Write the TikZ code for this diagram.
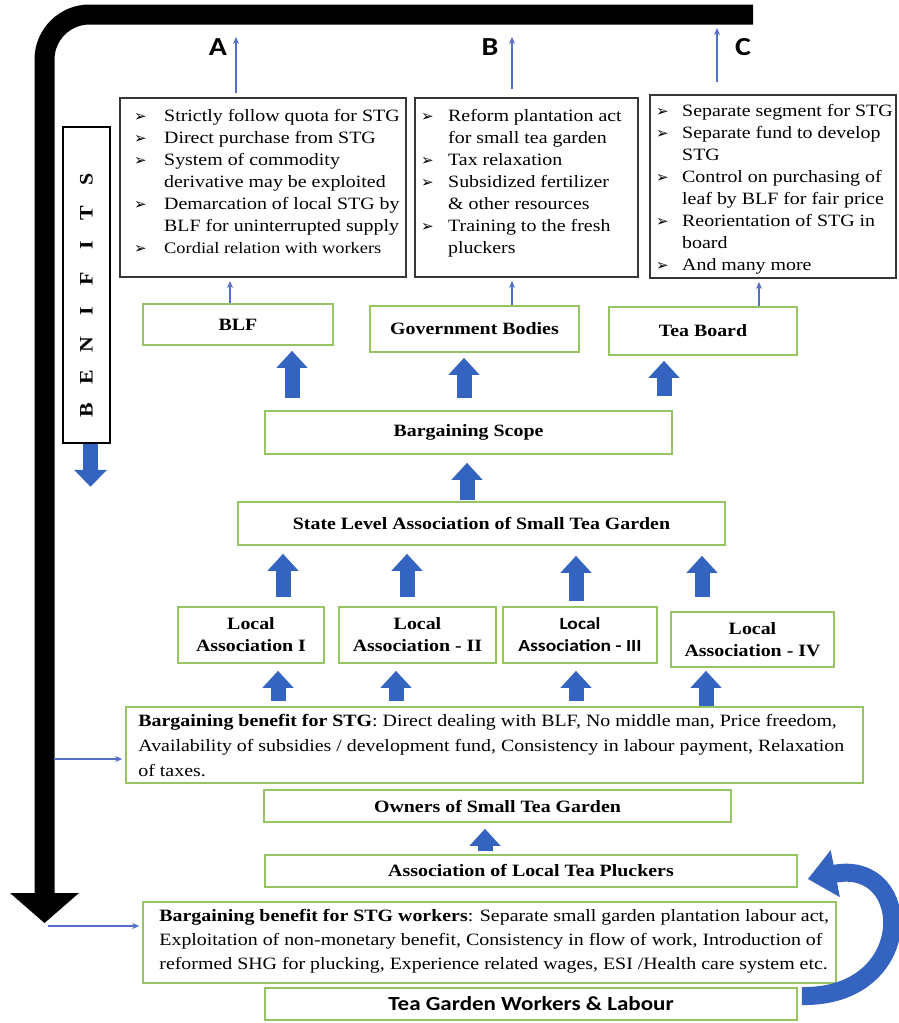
\documentclass[tikz,border=0pt]{standalone}
\usepackage{fontspec}
\setmainfont{Liberation Serif}[FakeStretch=1.15]
\newfontfamily\calibri{Carlito}[FakeStretch=1.15]
\newfontfamily\dejavu{DejaVu Sans}
\usetikzlibrary{arrows.meta,calc}
\definecolor{boxgreen}{RGB}{150,195,100}
\definecolor{arrblue}{RGB}{52,100,192}
\definecolor{thinblue}{RGB}{85,110,200}
\definecolor{boxgray}{RGB}{55,55,55}
\newlength\bulw
\newcommand\bl{\makebox[\bulw][l]{\dejavu\bfseries\fontsize{15}{15}\selectfont ➢}}
\newcommand\ind{\hspace*{\bulw}}
\tikzset{
 gbox/.style={draw=boxgreen, line width=1.6pt, inner sep=0pt, align=center, font=\bfseries\fontsize{17.3}{22}\selectfont},
 lbox/.style={draw=boxgray, line width=2pt, inner sep=0pt},
 listtext/.style={inner sep=0pt, align=left, anchor=north west, font=\fontsize{17.3}{22}\selectfont},
 bigarr/.style={draw=arrblue, line width=15pt, -{Triangle[width=30pt,length=17pt]}},
 thinarr/.style={draw=thinblue, line width=1.5pt, -{Stealth[length=7pt,width=6pt]}},
 lab/.style={font=\calibri\bfseries\fontsize{26}{26}\selectfont, inner sep=0pt},
}
\begin{document}
\begin{tikzpicture}[x=1pt,y=-1pt]
\useasboundingbox (0,0) rectangle (899,1023);
\fill[white] (0,0) rectangle (899,1023);

% big black benefit arrow
\coordinate (bk1) at (753,14.5);
\coordinate (bk2) at (44.5,893);
\draw[line width=20pt, rounded corners=45pt] (bk1) -| (bk2);
\fill ([xshift=-34.5pt]bk2) -- ([xshift=34.5pt]bk2) -- ([yshift=-30pt]bk2) -- cycle;

% labels
\node[lab] (labA) at (218,47) {A};
\node[lab] (labB) at (490,47) {B};
\node[lab] (labC) at (743,47) {C};
\coordinate (aTop) at (236,37);
\coordinate (bTop) at (512,37);
\coordinate (cTop) at (717,28);

% top boxes
\node[lbox, minimum width=286pt, minimum height=179pt] (boxA) at (263,187.5) {};
\node[lbox, minimum width=223pt, minimum height=179pt] (boxB) at (526.5,187.5) {};
\node[lbox, minimum width=246pt, minimum height=183pt] (boxC) at (773,186.5) {};

\node[listtext] (txtA) at ([xshift=15pt,yshift=-12pt]boxA.north west) {\global\bulw=30pt\relax
\bl Strictly follow quota for STG\\
\bl Direct purchase from STG\\
\bl System of commodity\\
\ind derivative may be exploited\\
\bl Demarcation of local STG by\\
\ind BLF for uninterrupted supply\\
{\fontsize{16}{22}\selectfont\bl Cordial relation with workers}};

\node[listtext] (txtB) at ([xshift=7pt,yshift=-12pt]boxB.north west) {\global\bulw=27pt\relax
\bl Reform plantation act\\
\ind for small tea garden\\
\bl Tax relaxation\\
\bl Subsidized fertilizer\\
\ind \& other resources\\
\bl Training to the fresh\\
\ind pluckers};

\node[listtext] (txtC) at ([xshift=7pt,yshift=-10pt]boxC.north west) {\global\bulw=26pt\relax
\bl Separate segment for STG\\
\bl Separate fund to develop\\
\ind STG\\
\bl Control on purchasing of\\
\ind leaf by BLF for fair price\\
\bl Reorientation of STG in\\
\ind board\\
\bl And many more};

\draw[thinarr] ([xshift=-27pt,yshift=4pt]boxA.north) -- (aTop);
\draw[thinarr] ([xshift=-14.5pt,yshift=8pt]boxB.north) -- (bTop);
\draw[thinarr] ([xshift=-56pt,yshift=12pt]boxC.north) -- (cTop);

% BENIFITS
\node[draw=black, line width=1.5pt, rotate=90, minimum width=316pt, minimum height=47pt, inner sep=0pt,
      font=\bfseries\fontsize{19}{19}\selectfont] (ben) at (86.5,285)
  {\makebox[32.9pt]{B}\makebox[32.9pt]{E}\makebox[32.9pt]{N}\makebox[32.9pt]{I}\makebox[32.9pt]{F}\makebox[32.9pt]{I}\makebox[32.9pt]{T}\makebox[32.9pt]{S}\kern20pt\null};
\draw[draw=arrblue, line width=15pt, -{Triangle[width=32pt,length=17pt]}] ([xshift=4pt]ben.west) -- ++(0,43);

% level boxes
\node[gbox, minimum width=190pt, minimum height=41pt] (BLF) at (238,324.5) {BLF};
\node[gbox, minimum width=209pt, minimum height=46pt] (Gov) at (474.5,329) {Government Bodies};
\node[gbox, minimum width=188pt, minimum height=48pt] (TB) at (703,331) {Tea Board};

\draw[thinarr] ([xshift=-8pt]BLF.north) -- ([xshift=-33pt,yshift=-3pt]boxA.south);
\draw[thinarr] ([xshift=37.5pt]Gov.north) -- ([xshift=-14.5pt,yshift=-3pt]boxB.south);
\draw[thinarr] ([xshift=56pt]TB.north) -- ([xshift=-14pt,yshift=-3pt]boxC.south);

\node[gbox, minimum width=407pt, minimum height=43pt] (Scope) at (468.5,432.5) {Bargaining Scope};
\node[gbox, minimum width=487pt, minimum height=43pt] (State) at (481.5,523.5) {State Level Association of Small Tea Garden};

\draw[bigarr] ([yshift=12pt]Scope.north -| 292,0) -- ([yshift=-5pt]BLF.south -| 292,0);
\draw[bigarr] ([yshift=12pt]Scope.north -| 464,0) -- ([yshift=-5pt]Gov.south -| 464,0);
\draw[bigarr] ([yshift=14pt]Scope.north -| 664,0) -- ([yshift=-5pt]TB.south -| 664,0);
\draw[bigarr] ([yshift=1pt]State.north -| 467,0) -- ([yshift=-8pt]Scope.south -| 467,0);

\node[gbox, minimum width=146pt, minimum height=56pt] (L1) at (251,635) {Local\\Association I};
\node[gbox, minimum width=157pt, minimum height=56pt] (L2) at (417.5,635) {Local\\Association - II};
\node[gbox, minimum width=154pt, minimum height=56pt, font=\calibri\bfseries\fontsize{17}{22}\selectfont] (L3) at (580,635) {Local\\Association - III};
\node[gbox, minimum width=163pt, minimum height=55pt] (L4) at (752.5,639.5) {Local\\Association - IV};

\draw[bigarr] ([yshift=9pt]L1.north -| 283,0) -- ([yshift=-8pt]State.south -| 283,0);
\draw[bigarr] ([yshift=9pt]L2.north -| 407,0) -- ([yshift=-8pt]State.south -| 407,0);
\draw[bigarr] ([yshift=5pt]L3.north -| 576,0) -- ([yshift=-10pt]State.south -| 576,0);
\draw[bigarr] ([yshift=14pt]L4.north -| 702,0) -- ([yshift=-10pt]State.south -| 702,0);

\node[gbox, minimum width=737pt, minimum height=76pt] (STG) at (494.5,745) {};
\node[listtext, font=\fontsize{17.3}{25}\selectfont] (txtSTG) at ([xshift=13pt,yshift=-8pt]STG.north west)
{\textbf{Bargaining benefit for STG}: Direct dealing with BLF, No middle man, Price freedom,\\
Availability of subsidies / development fund, Consistency in labour payment, Relaxation\\
of taxes.};

\draw[bigarr] ([yshift=5pt]STG.north -| 278,0) -- ([yshift=-7pt]L1.south -| 278,0);
\draw[bigarr] ([yshift=5pt]STG.north -| 396,0) -- ([yshift=-7pt]L2.south -| 396,0);
\draw[bigarr] ([yshift=5pt]STG.north -| 576,0) -- ([yshift=-7pt]L3.south -| 576,0);
\draw[bigarr] ([yshift=0pt]STG.north -| 706,0) -- ([yshift=-3pt]L4.south -| 706,0);

\coordinate (s1) at (54,759);
\draw[thinarr] (s1) -- ([xshift=-3pt]STG.west |- s1);

\node[gbox, minimum width=467pt, minimum height=32pt] (Own) at (497.5,806) {Owners of Small Tea Garden};
\node[gbox, minimum width=532pt, minimum height=32pt] (Pluck) at (531,871) {Association of Local Tea Pluckers};
\draw[bigarr] ([yshift=3pt]Pluck.north -| 485,0) -- ([yshift=-6pt]Own.south -| 485,0);

\node[gbox, minimum width=693pt, minimum height=81pt] (WB) at (489.5,942.5) {};
\node[listtext, font=\fontsize{17.3}{24}\selectfont] (txtWB) at ([xshift=17pt,yshift=-8pt]WB.north west)
{\textbf{Bargaining benefit for STG workers}: Separate small garden plantation labour act,\\
Exploitation of non-monetary benefit, Consistency in flow of work, Introduction of\\
reformed SHG for plucking, Experience related wages, ESI /Health care system etc.};

\coordinate (s2) at (48,926);
\draw[thinarr] (s2) -- ([xshift=-3pt]WB.west |- s2);

\node[gbox, minimum width=532pt, minimum height=32pt, font=\calibri\bfseries\fontsize{20}{22}\selectfont] (TGW) at (531,1004) {Tea Garden Workers \& Labour};

\draw[draw=arrblue, line width=18pt, -{Triangle[width=46pt,length=28pt]}]
  ([xshift=4pt,yshift=8pt]TGW.east) .. controls (918,998) and (915,858) .. ([xshift=10pt,yshift=-8pt]Pluck.east);
\end{tikzpicture}
\end{document}
